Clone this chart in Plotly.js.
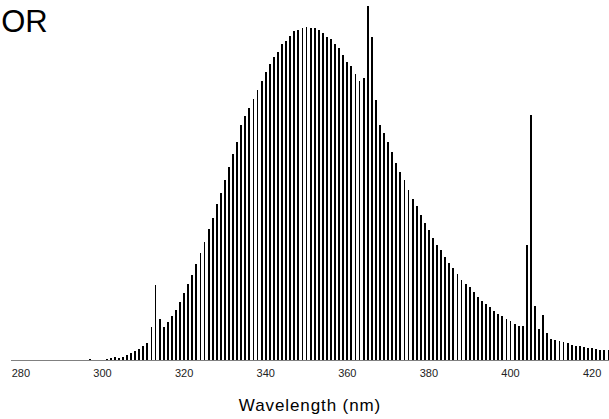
<!DOCTYPE html>
<html>
<head>
<meta charset="utf-8">
<script src="https://cdn.plot.ly/plotly-3.0.1.min.js"></script>
<style>
  html, body { margin: 0; padding: 0; background: #fff; }
  #chart { width: 609px; height: 419px; }
  .xtitle { letter-spacing: 0.9px; }
</style>
</head>
<body>
<div id="chart"></div>
<script>
// Wavelength categories (nm)
var wavelengths = [
  278, 279, 280, 281, 282, 283, 284, 285, 286, 287, 288, 289, 290, 291, 292, 293, 294, 295, 296, 297,
  298, 299, 300, 301, 302, 303, 304, 305, 306, 307, 308, 309, 310, 311, 312, 313, 314, 315, 316, 317,
  318, 319, 320, 321, 322, 323, 324, 325, 326, 327, 328, 329, 330, 331, 332, 333, 334, 335, 336, 337,
  338, 339, 340, 341, 342, 343, 344, 345, 346, 347, 348, 349, 350, 351, 352, 353, 354, 355, 356, 357,
  358, 359, 360, 361, 362, 363, 364, 365, 366, 367, 368, 369, 370, 371, 372, 373, 374, 375, 376, 377,
  378, 379, 380, 381, 382, 383, 384, 385, 386, 387, 388, 389, 390, 391, 392, 393, 394, 395, 396, 397,
  398, 399, 400, 401, 402, 403, 404, 405, 406, 407, 408, 409, 410, 411, 412, 413, 414, 415, 416, 417,
  418, 419, 420, 421, 422, 423, 424
];

// Relative spectral power (peak of continuum = 100)
var relativePower = [
  0, 0, 0, 0, 0, 0, 0, 0, 0, 0, 0, 0, 0, 0, 0, 0, 0, 0, 0, 0.3,
  0, 0, 0, 0.2, 0.6, 1.0, 0.6, 1.0, 1.6, 2.1, 2.7, 3.3, 4.2, 5.1, 9.9, 22.5, 12.4, 9.9, 11.4, 13.2,
  15.1, 17.5, 20.1, 22.8, 25.5, 28.9, 32.1, 35.4, 39.3, 42.7, 46.8, 50.1, 54.1, 57.9, 61.9, 65.5, 70.6, 73.3, 75.7, 78.3,
  81.0, 83.7, 86.5, 88.8, 90.9, 92.5, 94.9, 95.8, 97.3, 98.7, 98.9, 99.6, 100.0, 99.6, 99.6, 98.9, 98.1, 97.0, 96.3, 94.9,
  93.6, 91.6, 89.5, 88.2, 85.9, 83.8, 84.7, 106.3, 96.9, 78.1, 70.6, 68.1, 65.4, 62.3, 59.1, 56.5, 54.0, 51.1, 48.3, 46.2,
  43.6, 41.1, 39.0, 36.6, 34.5, 33.0, 30.9, 29.1, 27.6, 25.8, 24.1, 22.8, 21.9, 20.5, 18.9, 17.8, 16.8, 15.9, 14.7, 13.8,
  13.2, 12.3, 11.7, 10.8, 10.3, 10.3, 34.6, 73.6, 16.2, 9.4, 13.5, 8.1, 6.3, 6.0, 5.7, 5.4, 5.1, 4.6, 4.3, 4.3,
  3.9, 3.6, 3.6, 3.3, 3.1, 3.1, 3.1
];

// Axis tick values
var tickValues = [280, 300, 320, 340, 360, 380, 400, 420];
var tickLabels = ['280', '300', '320', '340', '360', '380', '400', '420'];

var trace = {
  type: 'bar',
  x: wavelengths,
  y: relativePower,
  width: 0.45,
  marker: { color: '#000000', line: { width: 0 } },
  hoverinfo: 'x+y'
};

var layout = {
  width: 609,
  height: 419,
  margin: { l: 11, r: 0, t: 0, b: 59 },
  paper_bgcolor: '#ffffff',
  plot_bgcolor: '#ffffff',
  showlegend: false,
  title: {
    text: 'OR',
    x: 0.002,
    xanchor: 'left',
    xref: 'container',
    y: 0.950,
    yanchor: 'middle',
    yref: 'container',
    pad: { l: 0, r: 0, t: 0, b: 0 },
    font: { family: 'Liberation Sans, Arial, sans-serif', size: 31, color: '#000000' }
  },
  xaxis: {
    range: [277.57, 424.14],
    tickmode: 'array',
    tickvals: tickValues,
    ticktext: tickLabels,
    ticks: '',
    showgrid: false,
    zeroline: false,
    showline: true,
    linecolor: '#808080',
    linewidth: 1,
    ticklabelstandoff: 3,
    tickfont: { family: 'Liberation Sans, Arial, sans-serif', size: 11, color: '#222222' },
    title: {
      text: 'Wavelength (nm)',
      standoff: 20,
      font: { family: 'Liberation Sans, Arial, sans-serif', size: 17, color: '#000000' }
    },
    fixedrange: true
  },
  yaxis: {
    range: [0, 107.95],
    visible: false,
    showgrid: false,
    zeroline: false,
    fixedrange: true
  },
  bargap: 0
};

Plotly.newPlot('chart', [trace], layout, { displayModeBar: false, staticPlot: true });
</script>
</body>
</html>
